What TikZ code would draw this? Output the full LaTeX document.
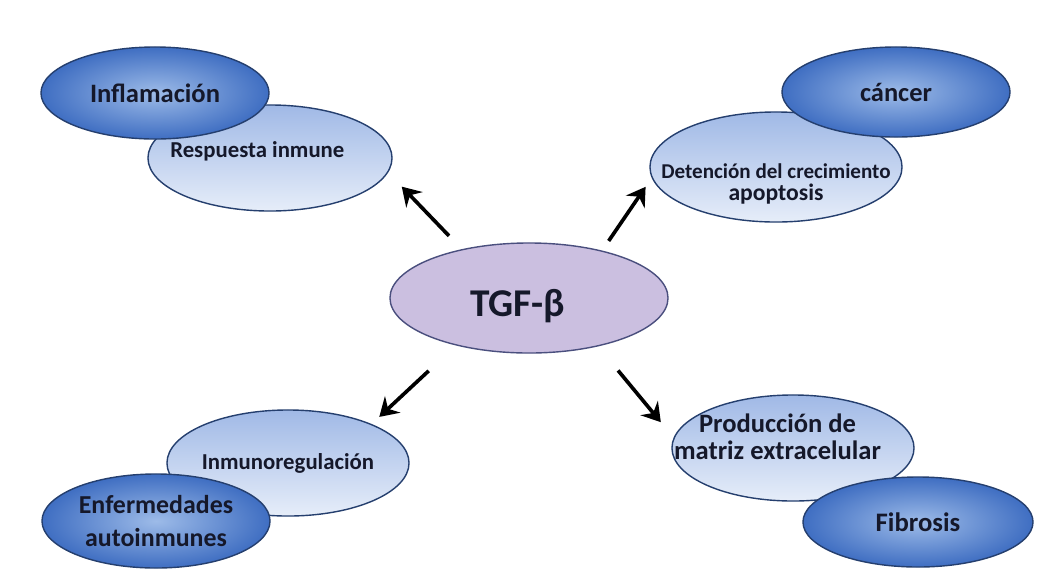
\documentclass[tikz,border=0pt]{standalone}
\usepackage{fontspec}
\setmainfont{Carlito}
\usepackage{tikz}
\usetikzlibrary{arrows.meta,shapes.geometric}
\definecolor{TGBlueDark}{HTML}{3F6EC2}
\definecolor{TGBlueMid}{HTML}{9DBBE8}
\definecolor{TGBluePale}{HTML}{E6EDF9}
\definecolor{TGBlueTop}{HTML}{A0B9E6}
\definecolor{TGEdge}{HTML}{253F6E}
\definecolor{TGLilac}{HTML}{CBBFE0}
\definecolor{TGLilacEdge}{HTML}{4A4F7E}
\definecolor{TGInk}{HTML}{15182A}

\begin{document}
\begin{tikzpicture}[
  x=0.025cm,y=-0.025cm,
  oval/.style={ellipse,inner xsep=-22pt,inner ysep=0pt,align=center,text=TGInk,line width=1pt},
  fs/.style 2 args={font=\bfseries\fontsize{#1}{#2}\selectfont},
  txt/.style={align=center,text=TGInk,inner sep=0pt},
  effect/.style={oval,draw=TGEdge,top color=TGBlueTop,bottom color=TGBluePale},
  disease/.style={oval,draw=TGEdge,inner color=TGBlueMid,outer color=TGBlueDark},
  hub/.style={oval,draw=TGLilacEdge,fill=TGLilac},
  arr/.style={-{Stealth[length=13pt,width=16pt,inset=4.5pt]},line width=2.6pt,black}
]
\useasboundingbox (0,0) rectangle (1048,568);

% effects of TGF-beta (pale ovals)
\node[effect,minimum width=6.1cm,minimum height=2.65cm,
  label={[txt,fs={16.2pt}{19pt},xshift=-9pt,yshift=5pt]center:Respuesta inmune}] (resp) at (270,158) {};
\node[effect,minimum width=6.3cm,minimum height=2.75cm,
  label={[txt,fs={15pt}{16pt},yshift=-12pt]center:Detención del crecimiento\\{\fontsize{16.8pt}{17pt}\selectfont apoptosis}}] (det) at (776,167) {};
\node[effect,minimum width=6.05cm,minimum height=2.65cm,fs={16.2pt}{19pt}] (inmu) at (288,463) {Inmunoregulación};
\node[effect,minimum width=6.05cm,minimum height=2.65cm,
  label={[txt,fs={18.9pt}{19.5pt},xshift=-11pt,yshift=8pt]center:Producción de\\matriz extracelular}] (prod) at (793,448) {};

% diseases (dark ovals on top)
\node[disease,minimum width=5.7cm,minimum height=2.3cm,fs={18.9pt}{22pt}] (infl) at (155,93) {Inflamación};
\node[disease,minimum width=5.7cm,minimum height=2.25cm,fs={18.8pt}{22pt}] (canc) at (896,92) {cáncer};
\node[disease,minimum width=5.7cm,minimum height=2.35cm,fs={18.4pt}{24pt}] (enf) at (156,521) {Enfermedades\\autoinmunes};
\node[disease,minimum width=5.75cm,minimum height=2.25cm,fs={19pt}{22pt}] (fib) at (918,522) {Fibrosis};

% centre
\node[hub,minimum width=6.95cm,minimum height=2.75cm,
  label={[txt,fs={28pt}{30pt},xshift=-8pt,yshift=-6pt]center:TGF-β}] (tgf) at (529,298) {};

\draw[arr,shorten <=0.46cm,shorten >=0.49cm] (tgf.144.8) -- (resp.-7.8);
\draw[arr,shorten <=0.29cm,shorten >=0.27cm] (tgf.33.5) -- (det.185.7);
\draw[arr,shorten <=0.93cm,shorten >=0.26cm] (tgf.213.4) -- (inmu.25.4);
\draw[arr,shorten <=0.78cm,shorten >=0.5cm] (tgf.-35.3) -- (prod.175.3);
\end{tikzpicture}
\end{document}
